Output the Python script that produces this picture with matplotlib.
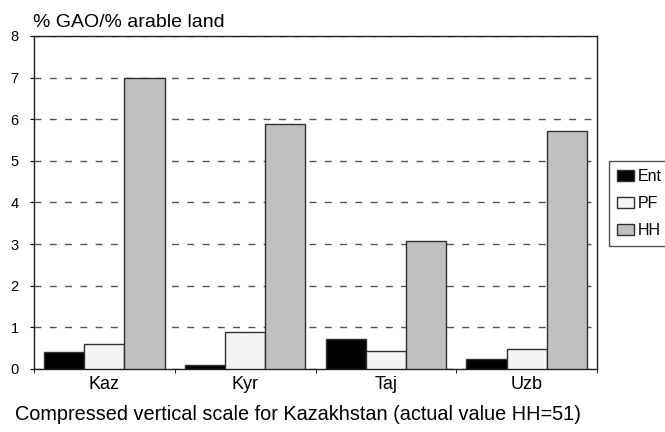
import numpy as np
import matplotlib.pyplot as plt
from matplotlib.patches import Patch

plt.rcParams['font.family'] = ['Liberation Sans', 'DejaVu Sans']

countries = ['Kaz', 'Kyr', 'Taj', 'Uzb']
series_names = ['Ent', 'PF', 'HH']
ent = [0.40, 0.10, 0.73, 0.25]
pf = [0.60, 0.90, 0.44, 0.49]
hh = [7.00, 5.88, 3.08, 5.72]
colors = ['#000000', '#f5f5f5', '#c0c0c0']

W, H = 665, 432
fig = plt.figure(figsize=(W / 100, H / 100), dpi=100)
ax = fig.add_axes([34 / W, 1 - 369 / H, (597 - 34) / W, (369 - 36) / H])

x = np.arange(len(countries))
width = 1 / 3.5  # Excel-like 50% gap
for i, (vals, col) in enumerate(zip([ent, pf, hh], colors)):
    ax.bar(x + (i - 1) * width, vals, width, color=col, edgecolor='#303030',
           linewidth=1.0, zorder=3)

ax.set_xlim(-0.5, 3.5)
ax.set_ylim(0, 8)
ax.set_yticks(range(0, 9))
ax.yaxis.grid(True, linestyle=(0, (5, 6)), color='#555555', linewidth=1.0, zorder=0)
ax.set_xticks(x)
ax.set_xticklabels(countries, fontsize=13)
ax.set_xticks(np.arange(-0.5, 4, 1), minor=True)
ax.tick_params(axis='x', which='major', length=0, pad=5)
ax.tick_params(axis='x', which='minor', length=3, direction='out')
ax.tick_params(axis='y', labelsize=10.5, length=3, direction='out', pad=8)
for s in ax.spines.values():
    s.set_linewidth(1.0)
    s.set_color('#202020')

fig.text(33 / W, 1 - 27 / H, '% GAO/% arable land', fontsize=14, va='baseline', ha='left')
fig.text(15 / W, 1 - 420 / H, 'Compressed vertical scale for Kazakhstan (actual value HH=51)',
         fontsize=14.3, va='baseline', ha='left')

handles = [Patch(facecolor=c, edgecolor='#303030', linewidth=1.0, label=n)
           for c, n in zip(colors, series_names)]
leg = fig.legend(handles=handles, loc='upper left', bbox_to_anchor=(609 / W, 1 - 161 / H),
                 fontsize=11.5, frameon=True, fancybox=False, handlelength=1.05,
                 handleheight=0.65, handletextpad=0.25, borderpad=0.5, labelspacing=0.75,
                 borderaxespad=0)
leg.get_frame().set_edgecolor('#202020')
leg.get_frame().set_linewidth(1.0)

fig.savefig('out.png', dpi=100)
